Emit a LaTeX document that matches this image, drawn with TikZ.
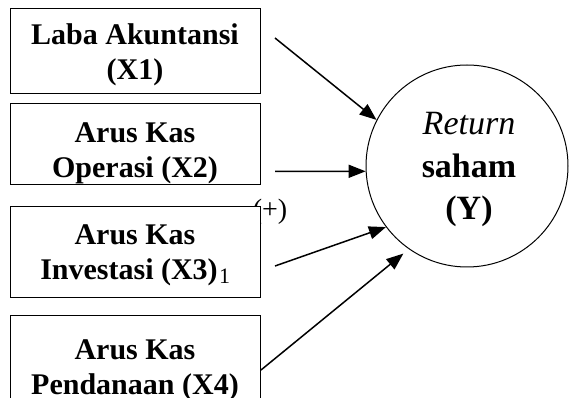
\documentclass[tikz,border=0pt]{standalone}
\usepackage{fontspec}
\setmainfont{Liberation Serif}
\usetikzlibrary{arrows.meta}
\tikzset{
  box/.style={draw=black, line width=1pt, fill=white, minimum width=250pt, inner sep=0pt},
  btxt/.style={anchor=base, inner sep=0pt, font=\fontsize{30}{35}\selectfont\bfseries},
  ctxt/.style={anchor=base, inner sep=0pt, font=\fontsize{34}{40}\selectfont\bfseries},
  small/.style={anchor=base, inner sep=0pt, font=\fontsize{28}{32}\selectfont},
  tiny/.style={anchor=base west, inner sep=0pt, font=\fontsize{22}{24}\selectfont},
  arr/.style={line width=1.5pt, -{Triangle[length=17pt,width=13pt]}},
}
\begin{document}
\begin{tikzpicture}[x=1pt,y=-1pt]
\useasboundingbox (0,0) rectangle (571,398);
\clip (0,0) rectangle (571,398);
\fill[white] (0,0) rectangle (571,398);
% label drawn under the boxes
\node[small] (plus) at (270,219) {(+)};
% boxes
\node[box, minimum height=85pt] (b1) at (135,51.5) {};
\node[box, minimum height=81pt] (b2) at (135,144.5) {};
\node[box, minimum height=91pt] (b3) at (135,252.5) {};
\node[box, minimum height=104pt] (b4) at (135,368) {};
% box texts
\node[btxt] (t1a) at (135,45) {Laba Akuntansi};
\node[btxt] (t1b) at (135,80) {(X1)};
\node[btxt] (t2a) at (135,143) {Arus Kas};
\node[btxt] (t2b) at (135,178) {Operasi (X2)};
\node[btxt] (t3a) at (135,245) {Arus Kas};
\node[btxt] (t3b) at (129,280) {Investasi (X3)};
\node[tiny] (sub) at ([xshift=1pt,yshift=-4pt]t3b.base east) {1};
\node[btxt] (t4a) at (135,360) {Arus Kas};
\node[btxt] (t4b) at (135,395) {Pendanaan (X4)};
% circle
\node[draw=black, line width=1pt, circle, minimum size=202pt, inner sep=0pt] (Y) at (467,166) {};
\node[ctxt, font=\fontsize{34}{40}\selectfont\itshape] (ya) at (469,135) {Return};
\node[ctxt] (yb) at (469,178) {saham};
\node[ctxt] (yc) at (469,220) {(Y)};
% arrow start points
\coordinate (s1) at (275,38);
\coordinate (s2) at (275,171.3);
\coordinate (s3) at (275,266);
\coordinate (s4) at (261,370);
\draw[arr] (s1) -- (Y.153);
\draw[arr] (s2) -- (Y.183);
\draw[arr] (s3) -- (Y.217);
\draw[arr, shorten >=7pt] (s4) -- (Y.235);
\end{tikzpicture}
\end{document}
